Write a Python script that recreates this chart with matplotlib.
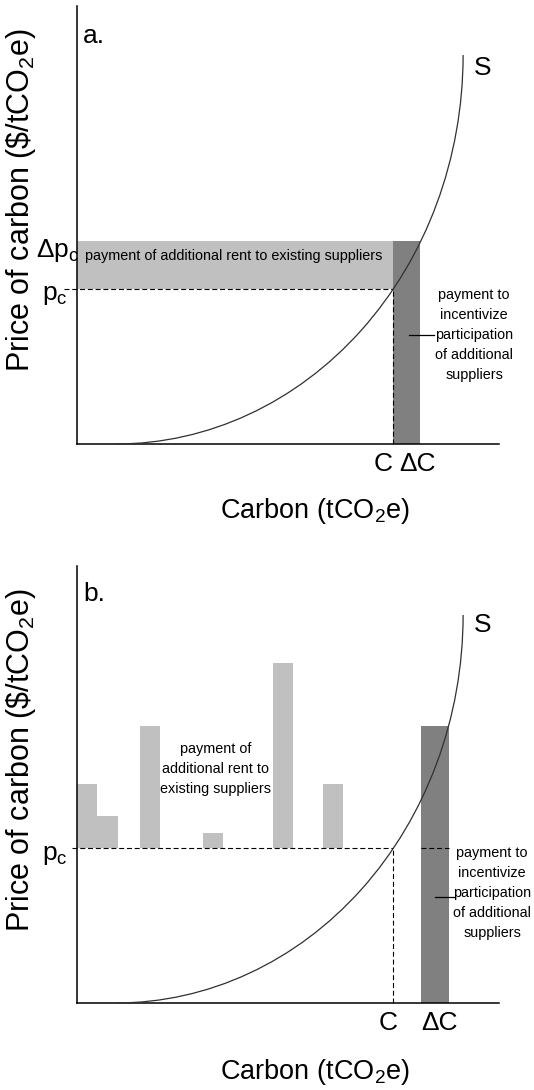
import matplotlib

matplotlib.use("Agg")
import matplotlib.pyplot as plt
from matplotlib.patches import Arc

plt.rcParams["font.family"] = ["Liberation Sans", "DejaVu Sans"]
plt.rcParams["mathtext.default"] = "regular"

# supply curve S: a quarter ellipse in both panels
s_start_x = 9.3    # leaves the carbon axis here (flat)
s_end_x = 91.5     # turns vertical here
s_top_y = 88.8     # price at the top end of S

carbon_c = 75.0      # C
price_pc = 35.4      # p_c

# panel a
delta_c_a = 6.4
delta_pc_a = 10.9

# panel b: rents paid to existing suppliers (bars sit on p_c)
rent_left = [0.0, 4.7, 14.9, 29.8, 46.5, 58.3]
rent_width = [4.7, 5.0, 4.8, 4.9, 4.8, 4.8]
rent_top = [50.1, 42.9, 63.3, 38.9, 77.9, 50.1]
new_left_b = 81.5
new_width_b = 6.7
new_top_b = 63.3

LIGHT = "#c0c0c0"
DARK = "#808080"
W, H = 534, 1090

fig = plt.figure(figsize=(W / 100, H / 100), dpi=100)


def fx(px):
    return px / W


def fy(py):
    return 1 - py / H


def make_axes(top_px, bottom_px):
    ax = fig.add_axes([fx(76.7), fy(bottom_px), (499 - 76.7) / W, (bottom_px - top_px) / H])
    ax.set_xlim(0, 100)
    ax.set_ylim(0, 100)
    for s in ["top", "right"]:
        ax.spines[s].set_visible(False)
    for s in ["left", "bottom"]:
        ax.spines[s].set_linewidth(1.1)
    ax.set_xticks([])
    ax.set_yticks([])
    return ax


def dashed(ax, xs, ys):
    ax.plot(xs, ys, color="black", lw=0.8, dashes=(4.5, 2.5), clip_on=False, zorder=3)


def curve(ax):
    ax.add_patch(Arc((s_start_x, s_top_y), 2 * (s_end_x - s_start_x), 2 * s_top_y,
                     theta1=270, theta2=360, color="#303030", lw=0.9, zorder=4))


small = dict(fontsize=10.4, ha="center", va="center", linespacing=1.55)
big = 19
ylab = r"Price of carbon (\$/tCO$_2$e)"

# ---------------- panel a ----------------
ax = make_axes(6, 444)
ax.bar(0, delta_pc_a, width=carbon_c, bottom=price_pc, align="edge", color=LIGHT, lw=0)
ax.bar(carbon_c, price_pc + delta_pc_a, width=delta_c_a, align="edge", color=DARK, lw=0)
dashed(ax, [-3, carbon_c], [price_pc, price_pc])
dashed(ax, [carbon_c, carbon_c], [0, price_pc])
curve(ax)
ax.plot([78.7, 84.6], [24.9, 24.9], color="black", lw=0.9, clip_on=False)

fig.text(fx(85), fy(256), "payment of additional rent to existing suppliers",
         fontsize=10.4, va="center")
fig.text(fx(474), fy(335), "payment to\nincentivize\nparticipation\nof additional\nsuppliers", **small)
fig.text(fx(83), fy(43), "a.", fontsize=big)
fig.text(fx(474), fy(75), "S", fontsize=big)
fig.text(fx(383), fy(471), "C", fontsize=big, ha="center")
fig.text(fx(418), fy(471), "ΔC", fontsize=big, ha="center")
fig.text(fx(36), fy(257), r"$\Delta p_c$", fontsize=big)
fig.text(fx(42), fy(300), r"$p_c$", fontsize=big)
fig.text(fx(315), fy(518), "Carbon (tCO$_2$e)", fontsize=19.5, ha="center")
fig.text(fx(21), fy(200), ylab, fontsize=22, rotation=90, ha="center", va="center")

# ---------------- panel b ----------------
ax = make_axes(566, 1003)
ax.bar(rent_left, [t - price_pc for t in rent_top], width=rent_width, bottom=price_pc,
       align="edge", color=LIGHT, lw=0)
ax.bar(new_left_b, new_top_b, width=new_width_b, align="edge", color=DARK, lw=0)
dashed(ax, [-1, carbon_c], [price_pc, price_pc])
dashed(ax, [carbon_c, carbon_c], [0, price_pc])
dashed(ax, [new_left_b, new_left_b + new_width_b], [price_pc, price_pc])
curve(ax)
ax.plot([84.8, 89.6], [24.3, 24.3], color="black", lw=0.9, clip_on=False)

fig.text(fx(216), fy(769), "payment of\nadditional rent to\nexisting suppliers", **small)
fig.text(fx(492), fy(893), "payment to\nincentivize\nparticipation\nof additional\nsuppliers", **small)
fig.text(fx(83), fy(601), "b.", fontsize=big)
fig.text(fx(474), fy(632), "S", fontsize=big)
fig.text(fx(388), fy(1030), "C", fontsize=big, ha="center")
fig.text(fx(440), fy(1030), "ΔC", fontsize=big, ha="center")
fig.text(fx(42), fy(860), r"$p_c$", fontsize=big)
fig.text(fx(315), fy(1079), "Carbon (tCO$_2$e)", fontsize=19.5, ha="center")
fig.text(fx(21), fy(760), ylab, fontsize=22, rotation=90, ha="center", va="center")

fig.savefig("out.png", dpi=100)
